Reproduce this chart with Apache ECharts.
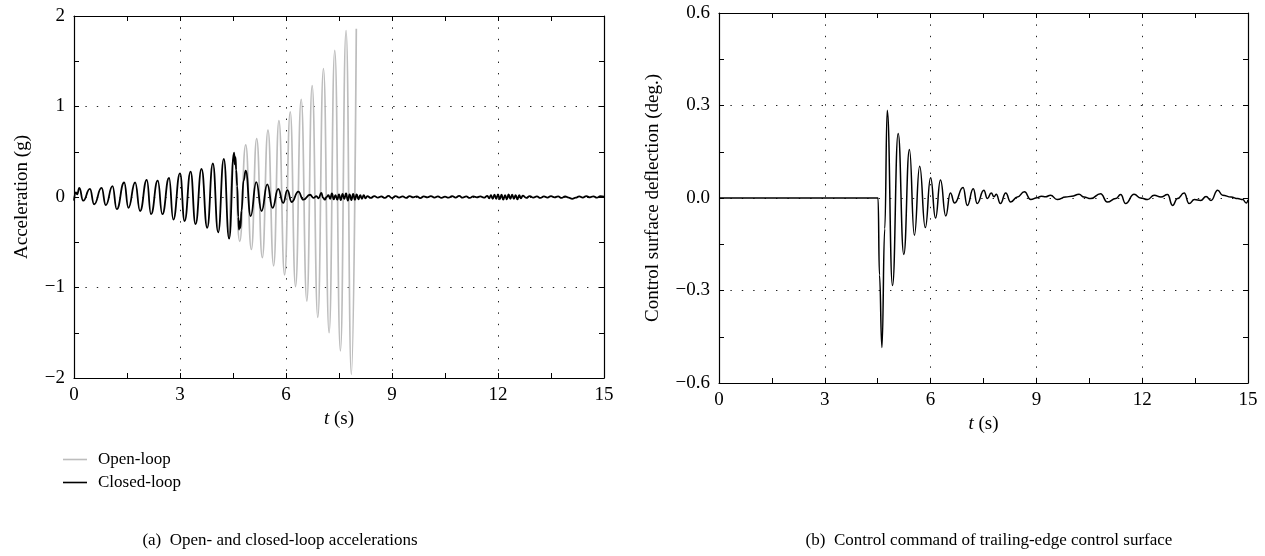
<!DOCTYPE html>
<html>
<head>
<meta charset="utf-8">
<script src="https://cdn.jsdelivr.net/npm/echarts@6/dist/echarts.min.js"></script>
<style>
html,body{margin:0;padding:0;background:#fff;}
#chart{width:1265px;height:556px;}
</style>
</head>
<body>
<div id="chart"></div>
<script>
// ---- Data ----
// (a) Open-loop acceleration (g): [time s, value]
var openLoop = [
  [4.39,-0.46],[4.53,0.49],[4.69,-0.49],[4.86,0.575],[5.02,-0.58],[5.17,0.645],[5.33,-0.67],
  [5.49,0.74],[5.65,-0.76],[5.80,0.845],[5.96,-0.86],[6.12,0.94],[6.27,-0.99],[6.43,1.08],
  [6.59,-1.15],[6.74,1.23],[6.90,-1.33],[7.06,1.42],[7.22,-1.50],[7.38,1.62],[7.54,-1.70],
  [7.70,1.84],[7.85,-1.96],[7.99,1.86]
];
// (a) Closed-loop acceleration (g): [time s, value]
var closedLoop = [
  [0,-0.04],[0.05,0.05],[0.09,0.03],[0.15,0.10],[0.26,-0.04],[0.45,0.09],[0.57,-0.08],[0.78,0.10],
  [0.90,-0.09],[1.09,0.12],[1.21,-0.135],[1.42,0.16],[1.54,-0.12],[1.73,0.16],[1.87,-0.155],
  [2.06,0.19],[2.18,-0.19],[2.37,0.18],[2.50,-0.19],[2.69,0.21],[2.81,-0.25],[3.00,0.26],
  [3.13,-0.265],[3.30,0.28],[3.44,-0.30],[3.61,0.31],[3.77,-0.34],[3.93,0.37],[4.08,-0.39],
  [4.24,0.42],[4.39,-0.46],[4.53,0.49],[4.55,0.36],[4.57,0.44],[4.59,0.30],[4.62,0.12],
  [4.65,-0.22],[4.67,-0.36],[4.69,-0.27],[4.71,-0.34],[4.74,-0.15],[4.80,0.18],[4.86,0.29],
  [5.00,-0.21],[5.16,0.165],[5.31,-0.155],[5.47,0.14],[5.62,-0.12],[5.78,0.09],[5.92,-0.065],
  [6.04,0.075],[6.16,-0.055],[6.35,0.06],[6.49,-0.03],[6.68,0.025],[6.78,-0.01],[6.86,0.01],
  [6.92,-0.015],[7.00,0.045],[7.05,-0.01],[7.10,-0.03],[7.15,0.0],[7.20,0.02],[7.25,-0.02],
  [7.30,0.04],[7.35,-0.025],[7.40,0.02],[7.45,-0.03],[7.50,0.03],[7.55,-0.035],[7.60,0.035],
  [7.65,-0.02],[7.70,0.04],[7.75,-0.04],[7.80,0.03],[7.85,-0.035],[7.90,0.035],[7.95,-0.03],
  [8.00,0.03],[8.05,-0.025],[8.10,0.02],[8.15,-0.02],[8.20,0.02],[8.25,-0.015],[8.30,0.01],
  [8.40,-0.01],[8.50,0.01],[8.60,-0.008],[8.70,0.006],[8.80,-0.01],[8.90,0.012],[9.00,-0.012],
  [9.10,0.01],[9.20,-0.006],[9.30,0.008],[9.40,-0.01],[9.50,0.01],[9.60,-0.005],[9.70,0.008],
  [9.80,-0.012],[9.90,0.006],[10.0,-0.004],[10.1,0.01],[10.2,-0.006],[10.3,0.008],[10.4,-0.01],
  [10.5,0.004],[10.6,-0.008],[10.7,0.01],[10.8,-0.006],[10.9,0.012],[11.0,-0.008],[11.1,0.006],
  [11.2,-0.01],[11.3,0.008],[11.4,-0.004],[11.5,0.006],[11.6,-0.008],[11.7,0.012],[11.75,-0.015],
  [11.80,0.02],[11.85,-0.02],[11.90,0.025],[11.95,-0.02],[12.00,0.03],[12.05,-0.025],[12.10,0.025],
  [12.15,-0.03],[12.20,0.02],[12.25,-0.025],[12.30,0.03],[12.35,-0.02],[12.40,0.025],[12.45,-0.02],
  [12.50,0.02],[12.55,-0.025],[12.60,0.02],[12.65,-0.015],[12.70,0.015],[12.8,-0.01],[12.9,0.01],
  [13.0,-0.008],[13.1,0.006],[13.2,-0.01],[13.3,0.008],[13.4,-0.006],[13.5,0.01],[13.6,-0.004],
  [13.7,0.006],[13.8,-0.01],[13.9,0.008],[14.0,-0.006],[14.1,-0.02],[14.2,-0.008],[14.3,0.008],
  [14.4,-0.006],[14.5,0.01],[14.6,-0.005],[14.7,0.008],[14.8,-0.008],[14.9,0.01],[15.0,0.005]
];
// (b) Control surface deflection (deg.): [time s, value]
var controlCmd = [
  [0,0],[4.51,0],[4.55,-0.25],[4.62,-0.485],[4.70,-0.10],[4.77,0.285],[4.92,-0.284],[5.08,0.209],
  [5.24,-0.183],[5.40,0.157],[5.54,-0.121],[5.69,0.103],[5.85,-0.096],[6.00,0.066],[6.14,-0.065],
  [6.28,0.058],[6.43,-0.058],[6.56,0.016],[6.68,-0.016],[6.92,0.034],[7.04,-0.024],[7.21,0.030],
  [7.32,-0.018],[7.51,0.025],[7.61,-0.002],[7.72,0.016],[7.80,0.004],[7.86,0.012],[7.98,-0.018],
  [8.13,0.016],[8.27,-0.013],[8.46,0.003],[8.66,0.020],[8.84,-0.005],[9.02,0.001],[9.14,0.006],
  [9.26,0.004],[9.40,0.009],[9.59,-0.005],[9.83,0.003],[10.0,0.006],[10.21,0.012],[10.35,0.003],
  [10.54,-0.002],[10.82,0.014],[11.01,-0.013],[11.25,-0.002],[11.39,0.011],[11.53,-0.018],
  [11.77,0.012],[11.96,0.0],[12.15,-0.005],[12.34,0.009],[12.53,0.003],[12.72,0.011],[12.86,-0.024],
  [13.0,-0.002],[13.19,0.016],[13.33,-0.018],[13.48,-0.005],[13.66,-0.008],[13.81,0.005],
  [13.95,-0.008],[14.14,0.025],[14.28,0.009],[14.52,0.003],[14.71,-0.002],[14.85,-0.005],
  [14.95,-0.016],[15.0,-0.006]
];
// Axis ranges / ticks
var xTicks = {min: 0, max: 15, interval: 3};
var yTicksA = {min: -2, max: 2, interval: 1};
var yTicksB = {min: -0.6, max: 0.6, interval: 0.3};
var seriesNames = ['Open-loop', 'Closed-loop'];
var captionA = '(a)  Open- and closed-loop accelerations';
var captionB = '(b)  Control command of trailing-edge control surface';
var yNameA = 'Acceleration (g)';
var yNameB = 'Control surface deflection (deg.)';

// ---- Styling ----
var FONT = 'Liberation Serif';
var minus = function (s) { return String(s).replace('-', '\u2212'); };
var dotted = {color: '#222', width: 1, type: [1.4, 10]};

function xAxisPair(gi) {
  var base = {
    gridIndex: gi, type: 'value', min: xTicks.min, max: xTicks.max, interval: xTicks.interval,
    axisLine: {show: true, onZero: false, lineStyle: {color: '#000', width: 1.2}},
    axisTick: {show: true, inside: true, length: 5, lineStyle: {color: '#000'}},
    minorTick: {show: true, splitNumber: 2, length: 5, lineStyle: {color: '#000'}}
  };
  var bottom = Object.assign({}, base, {
    position: 'bottom',
    axisLabel: {color: '#000', fontFamily: FONT, fontSize: 19, margin: 8},
    splitLine: {show: true, lineStyle: dotted},
    name: '{i|t} (s)', nameLocation: 'middle', nameGap: 31,
    nameTextStyle: {color: '#000', fontFamily: FONT, fontSize: 19,
      rich: {i: {fontStyle: 'italic', fontFamily: FONT, fontSize: 19, color: '#000'}}}
  });
  var top = Object.assign({}, base, {position: 'top', axisLabel: {show: false}, splitLine: {show: false}});
  return [bottom, top];
}
function yAxisPair(gi, t, name, gap, fmt) {
  var base = {
    gridIndex: gi, type: 'value', min: t.min, max: t.max, interval: t.interval,
    axisLine: {show: true, onZero: false, lineStyle: {color: '#000', width: 1.2}},
    axisTick: {show: true, inside: true, length: 5, lineStyle: {color: '#000'}},
    minorTick: {show: true, splitNumber: 2, length: 5, lineStyle: {color: '#000'}}
  };
  var left = Object.assign({}, base, {
    position: 'left',
    axisLabel: {color: '#000', fontFamily: FONT, fontSize: 19, margin: 9, formatter: fmt},
    splitLine: {show: true, lineStyle: dotted},
    name: name, nameLocation: 'middle', nameGap: gap,
    nameTextStyle: {color: '#000', fontFamily: FONT, fontSize: 19}
  });
  var right = Object.assign({}, base, {position: 'right', axisLabel: {show: false}, splitLine: {show: false}});
  return [left, right];
}

var xa = xAxisPair(0), xb = xAxisPair(1);
var ya = yAxisPair(0, yTicksA, yNameA, 42, function (v) { return minus(v); });
var yb = yAxisPair(1, yTicksB, yNameB, 56, function (v) { return minus(v.toFixed(1)); });

var option = {
  animation: false,
  backgroundColor: '#fff',
  grid: [
    {left: 74, top: 16, width: 530, height: 362},
    {left: 719, top: 13, width: 529, height: 370}
  ],
  xAxis: [xa[0], xa[1], xb[0], xb[1]],
  yAxis: [ya[0], ya[1], yb[0], yb[1]],
  legend: {
    data: [
      {name: seriesNames[0], icon: 'rect'},
      {name: seriesNames[1], icon: 'rect'}
    ],
    orient: 'vertical', left: 58, top: 446, itemWidth: 24, itemHeight: 1.6, itemGap: 6,
    textStyle: {color: '#000', fontFamily: FONT, fontSize: 17, padding: [0, 0, 0, 6]}
  },
  graphic: [
    {type: 'text', x: 280, y: 541, style: {text: captionA, fontFamily: FONT, fontSize: 17, fill: '#000', textAlign: 'center', textVerticalAlign: 'middle'}},
    {type: 'text', x: 989, y: 541, style: {text: captionB, fontFamily: FONT, fontSize: 17, fill: '#000', textAlign: 'center', textVerticalAlign: 'middle'}}
  ],
  series: [
    {name: seriesNames[0], type: 'line', xAxisIndex: 0, yAxisIndex: 0, data: openLoop, symbol: 'none',
      smooth: true, smoothMonotone: 'x', lineStyle: {color: '#bdbdbd', width: 1.7}, itemStyle: {color: '#bdbdbd'}, z: 2},
    {name: seriesNames[1], type: 'line', xAxisIndex: 0, yAxisIndex: 0, data: closedLoop, symbol: 'none',
      smooth: true, smoothMonotone: 'x', lineStyle: {color: '#000', width: 1.8}, itemStyle: {color: '#000'}, z: 3},
    {name: 'Control', type: 'line', xAxisIndex: 2, yAxisIndex: 2, data: controlCmd, symbol: 'none',
      smooth: true, smoothMonotone: 'x', lineStyle: {color: '#000', width: 1.5}, itemStyle: {color: '#000'}, z: 3}
  ]
};
var chart = echarts.init(document.getElementById('chart'), null, {renderer: 'canvas'});
chart.setOption(option);
</script>
</body>
</html>
